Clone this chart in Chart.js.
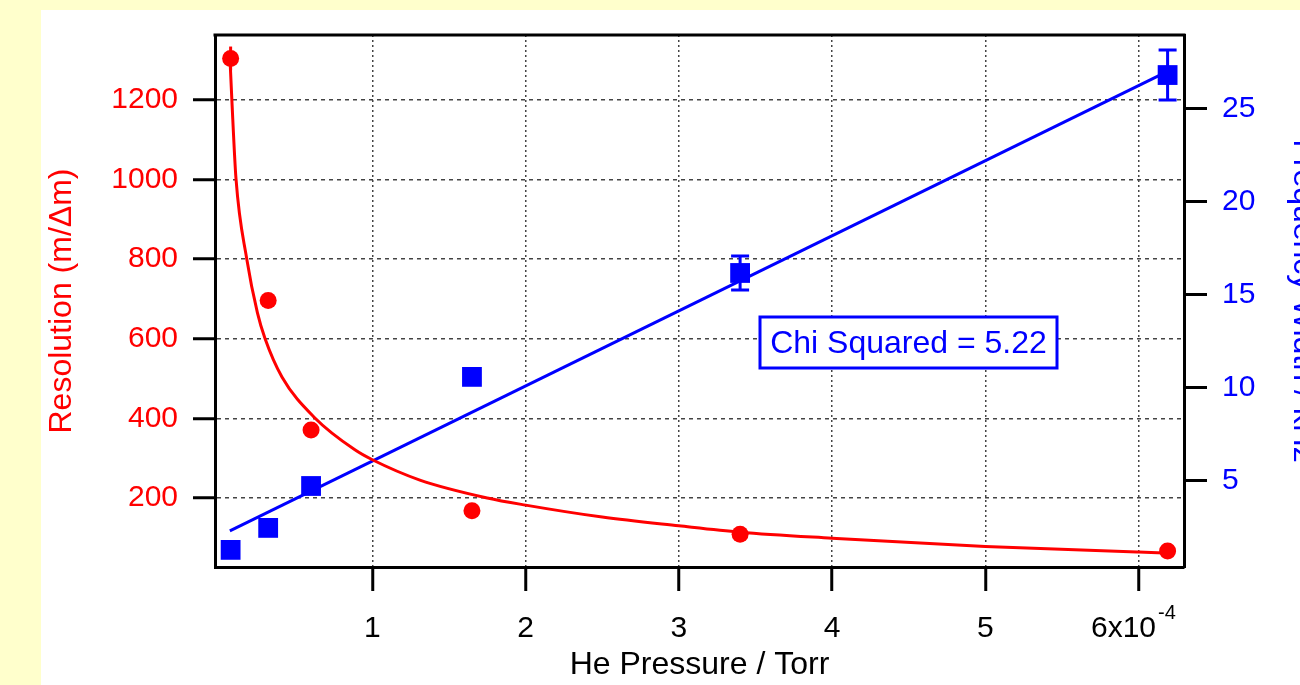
<!DOCTYPE html>
<html lang="en">
<head>
<meta charset="UTF-8" />
<title>Resolution and Frequency Width vs He Pressure</title>
<script src="https://cdn.jsdelivr.net/npm/chart.js"></script>
<style>
  html, body { margin: 0; padding: 0; }
  body { width: 1300px; height: 685px; background: #ffffcc; position: relative; overflow: hidden; }
  .panel { position: absolute; left: 41px; top: 10px; right: 0; bottom: 0; background: #fff; }
  .wrap { position: absolute; left: 0; top: 0; width: 1300px; height: 685px; }
</style>
</head>
<body>
<div class="panel"></div>
<div class="wrap"><canvas id="chart"></canvas></div>
<script>
  // measured points (pressure in units of 1e-4 Torr)
  const pressure = [0.075, 0.32, 0.60, 1.65, 3.40, 6.19];
  const resolution = [1304, 696, 371, 168, 109, 67];
  const resolutionErr = [30, 0, 0, 0, 0, 0];
  const freqWidth = [1.30, 2.48, 4.73, 10.59, 16.17, 26.80];
  const freqWidthErr = [0, 0, 0, 0, 0.91, 1.34];

  // fit curves
  const resFitX = [0.070, 0.083, 0.110, 0.180, 0.250, 0.300, 0.410, 0.625, 0.886, 1.000, 1.310, 1.750, 2.000, 2.500, 3.000, 3.400, 4.000, 5.000, 6.000, 6.190];
  const resFitY = [1310, 1200, 1002, 801, 665, 600, 504, 401, 321, 296, 245, 200, 182, 152, 130, 114, 99, 78, 64, 62];
  const widthFitX = [0.07, 6.19];
  const widthFitY = [2.32, 27.0];

  const xTicks = [1, 2, 3, 4, 5, 6];
  const xTickLabels = ["1", "2", "3", "4", "5", "6x10"];
  const leftTicks = [200, 400, 600, 800, 1000, 1200];
  const rightTicks = [5, 10, 15, 20, 25];
  const chiText = "Chi Squared = 5.22";

  const RED = "#ff0000", BLUE = "#0000ff";
  const FONT = "'Liberation Sans', Arial, Helvetica, sans-serif";

  const pts = (xs, ys) => xs.map((x, i) => ({ x: x, y: ys[i] }));

  const errorBars = {
    id: "errorBars",
    afterDatasetsDraw(chart) {
      const ctx = chart.ctx;
      chart.data.datasets.forEach((ds, di) => {
        if (!ds.errors) return;
        const meta = chart.getDatasetMeta(di);
        const ys = chart.scales[ds.yAxisID];
        ctx.save();
        ctx.strokeStyle = ds.backgroundColor;
        ctx.lineWidth = 3;
        meta.data.forEach((el, i) => {
          const e = ds.errors[i];
          if (!e) return;
          const v = ds.data[i].y;
          const top = ys.getPixelForValue(v + e), bot = ys.getPixelForValue(v - e);
          const c = ds.capWidth / 2;
          ctx.beginPath();
          ctx.moveTo(el.x, top); ctx.lineTo(el.x, bot);
          if (c) {
            ctx.moveTo(el.x - c, top); ctx.lineTo(el.x + c, top);
            ctx.moveTo(el.x - c, bot); ctx.lineTo(el.x + c, bot);
          }
          ctx.stroke();
        });
        ctx.restore();
      });
    }
  };

  const extras = {
    id: "extras",
    afterDraw(chart) {
      const ctx = chart.ctx, a = chart.chartArea;
      ctx.save();
      // top frame line
      ctx.strokeStyle = "#000";
      ctx.lineWidth = 3;
      ctx.beginPath();
      ctx.moveTo(a.left - 1.5, a.top);
      ctx.lineTo(a.right + 1.5, a.top);
      ctx.stroke();

      // exponent on last x label
      const xs = chart.scales.x;
      ctx.font = "30px " + FONT;
      const full = ctx.measureText(xTickLabels[5] + "\u2002\u2002").width;
      const base = ctx.measureText(xTickLabels[5]).width;
      const left = xs.getPixelForValue(6) - full / 2;
      ctx.font = "20px " + FONT;
      ctx.fillStyle = "#000";
      ctx.textAlign = "left";
      ctx.textBaseline = "middle";
      ctx.fillText("-4", left + base + 2, 613);

      // chi squared box
      ctx.fillStyle = "#fff";
      ctx.fillRect(760, 317, 297, 51);
      ctx.strokeStyle = BLUE;
      ctx.lineWidth = 3;
      ctx.strokeRect(760, 317, 297, 51);
      ctx.fillStyle = BLUE;
      ctx.font = "32px " + FONT;
      ctx.textAlign = "center";
      ctx.fillText(chiText, 908.5, 344);
      ctx.restore();
    }
  };

  new Chart(document.getElementById("chart"), {
    type: "scatter",
    data: {
      datasets: [
        {
          data: pts(pressure, resolution), yAxisID: "y", errors: resolutionErr, capWidth: 0,
          backgroundColor: RED, pointStyle: "circle", pointRadius: 8.5, borderWidth: 0
        },
        {
          data: pts(pressure, freqWidth), yAxisID: "y1", errors: freqWidthErr, capWidth: 18,
          backgroundColor: BLUE, pointStyle: "rect", pointRadius: 14, borderWidth: 0
        },
        {
          data: pts(resFitX, resFitY), yAxisID: "y", showLine: true, pointRadius: 0,
          borderColor: RED, borderWidth: 3, cubicInterpolationMode: "monotone"
        },
        {
          data: pts(widthFitX, widthFitY), yAxisID: "y1", showLine: true, pointRadius: 0,
          borderColor: BLUE, borderWidth: 3
        }
      ]
    },
    options: {
      responsive: true,
      maintainAspectRatio: false,
      animation: false,
      layout: { padding: { top: 35, left: 0, right: 0, bottom: 0 } },
      plugins: { legend: { display: false }, tooltip: { enabled: false } },
      scales: {
        x: {
          type: "linear", min: -0.027, max: 6.297,
          afterBuildTicks: s => { s.ticks = xTicks.map(v => ({ value: v })); },
          afterFit: s => { s.height = 118; },
          ticks: {
            color: "#000", font: { family: FONT, size: 30 }, padding: 20, maxRotation: 0, autoSkip: false,
            callback: (v, i) => i === 5 ? xTickLabels[i] + "\u2002\u2002" : xTickLabels[i]
          },
          grid: { color: "#444", lineWidth: 1.5, tickLength: 24, tickColor: "#000", tickWidth: 3 },
          border: { color: "#000", width: 3, dash: [2, 3] },
          title: { display: true, text: "He Pressure / Torr", color: "#000", font: { family: FONT, size: 32 }, padding: { top: 0, bottom: 1 } }
        },
        y: {
          type: "linear", position: "left", min: 26.6, max: 1363,
          afterBuildTicks: s => { s.ticks = leftTicks.map(v => ({ value: v })); },
          afterFit: s => { s.width = 215; },
          ticks: { color: RED, font: { family: FONT, size: 30 }, padding: 15, callback: v => String(v) },
          grid: { color: "#444", lineWidth: 1.5, tickLength: 22, tickColor: "#000", tickWidth: 3 },
          border: { color: "#000", width: 3, dash: [4, 4] },
          title: { display: true, text: "Resolution (m/\u0394m)", color: RED, font: { family: FONT, size: 32 }, padding: { top: 43, bottom: 0 } }
        },
        y1: {
          type: "linear", position: "right", min: 0.38, max: 28.95,
          afterBuildTicks: s => { s.ticks = rightTicks.map(v => ({ value: v })); },
          afterFit: s => { s.width = 116; },
          ticks: { color: BLUE, font: { family: FONT, size: 30 }, padding: 15, callback: v => String(v) },
          grid: { drawOnChartArea: false, tickLength: 23, tickColor: "#000", tickWidth: 3 },
          border: { color: "#000", width: 3 },
          title: { display: true, text: "Frequency Width / kHz", color: BLUE, font: { family: FONT, size: 32 }, padding: { top: -22, bottom: 0 } }
        }
      }
    },
    plugins: [errorBars, extras]
  });
</script>
</body>
</html>
